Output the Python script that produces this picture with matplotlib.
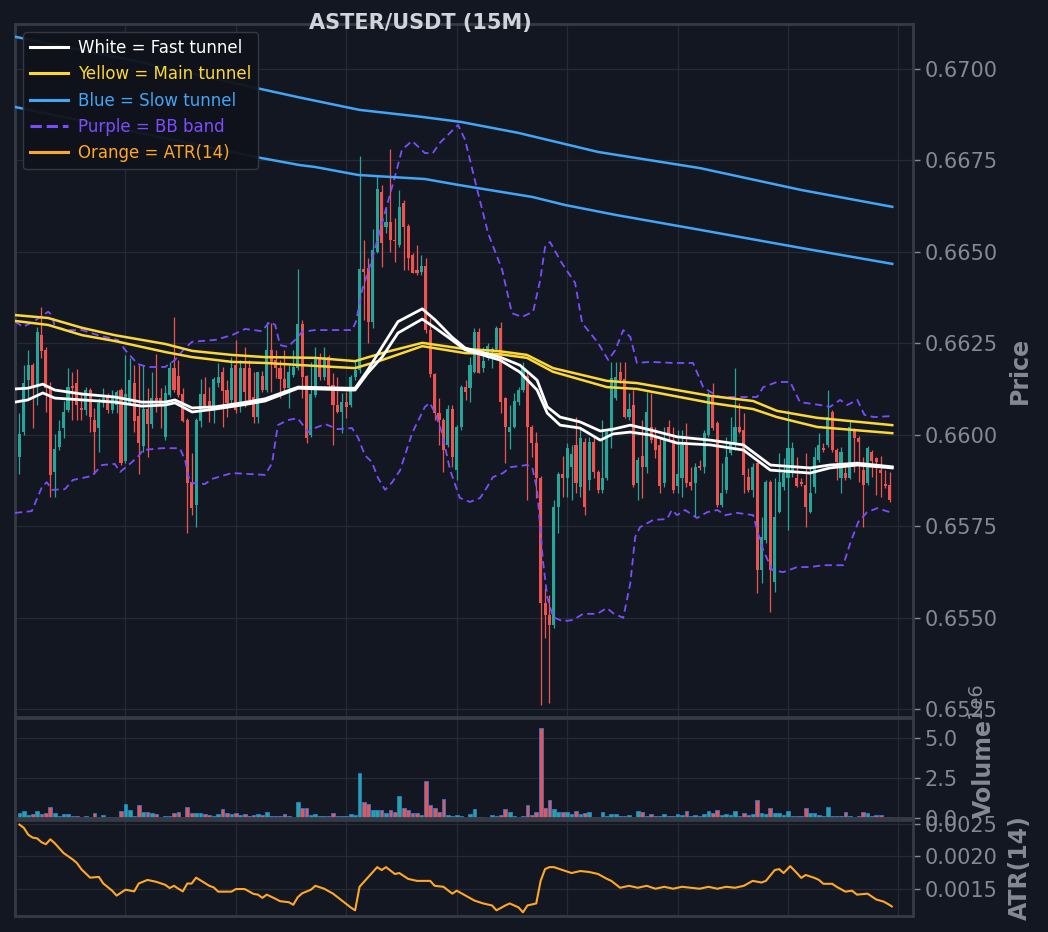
import numpy as np
import matplotlib.pyplot as plt
from matplotlib.lines import Line2D

## Velas ASTER/USDT 15M
Aperturas = [
    0.65939, 0.66008, 0.66149, 0.66190, 0.66135, 0.66272, 0.66232, 0.66127, 0.65898, 0.65966,
    0.66018, 0.66067, 0.66133, 0.66141, 0.66073, 0.66067, 0.66122, 0.66040, 0.66018, 0.66087,
    0.66106, 0.66067, 0.66081, 0.66122, 0.65928, 0.66087, 0.66141, 0.66051, 0.65969, 0.66070,
    0.66029, 0.66100, 0.66100, 0.65994, 0.66108, 0.66182, 0.66161, 0.66111, 0.66040, 0.65871,
    0.65807, 0.66037, 0.66111, 0.66092, 0.66076, 0.66141, 0.66172, 0.66122, 0.66095, 0.66190,
    0.66087, 0.66182, 0.66182, 0.66103, 0.66048, 0.66161, 0.66122, 0.66232, 0.66204, 0.66182,
    0.66152, 0.66127, 0.66163, 0.66182, 0.66303, 0.66161, 0.65999, 0.66108, 0.66212, 0.66158,
    0.66212, 0.66135, 0.66081, 0.66062, 0.66090, 0.66081, 0.66158, 0.66177, 0.66453, 0.66456,
    0.66308, 0.66500, 0.66664, 0.66568, 0.66581, 0.66532, 0.66519, 0.66634, 0.66571, 0.66491,
    0.66450, 0.66445, 0.66461, 0.66286, 0.66166, 0.66059, 0.66040, 0.65972, 0.66070, 0.65903,
    0.66021, 0.66130, 0.66127, 0.66172, 0.66281, 0.66182, 0.66210, 0.66232, 0.66234, 0.66292,
    0.66100, 0.66008, 0.66021, 0.66090, 0.66122, 0.66161, 0.66021, 0.65977, 0.65881, 0.65540,
    0.65507, 0.65479, 0.65802, 0.65892, 0.65881, 0.65912, 0.65972, 0.65857, 0.65980, 0.65876,
    0.65980, 0.65898, 0.65849, 0.65881, 0.66008, 0.66100, 0.66172, 0.66152, 0.66048, 0.66081,
    0.65868, 0.65942, 0.65912, 0.66021, 0.65994, 0.65972, 0.65868, 0.66021, 0.65985, 0.65860,
    0.65881, 0.65972, 0.65871, 0.65868, 0.65914, 0.65912, 0.65999, 0.66108, 0.66032, 0.65807,
    0.65849, 0.65950, 0.65977, 0.66021, 0.66013, 0.65884, 0.65849, 0.65923, 0.65630, 0.65712,
    0.65871, 0.65597, 0.65789, 0.65857, 0.65881, 0.65895, 0.65881, 0.65871, 0.65862, 0.65789,
    0.65857, 0.65931, 0.65964, 0.65972, 0.66062, 0.65958, 0.65881, 0.65895, 0.65881, 0.66013,
    0.65991, 0.65903, 0.65868, 0.65953, 0.65936, 0.65903, 0.65865, 0.65862]
Maximos = [
    0.66059, 0.66190, 0.66232, 0.66196, 0.66295, 0.66349, 0.66240, 0.66144, 0.66002, 0.66040,
    0.66092, 0.66182, 0.66172, 0.66179, 0.66117, 0.66130, 0.66127, 0.66073, 0.66100, 0.66127,
    0.66114, 0.66122, 0.66122, 0.66127, 0.66218, 0.66210, 0.66190, 0.66190, 0.66190, 0.66127,
    0.66172, 0.66221, 0.66127, 0.66135, 0.66199, 0.66322, 0.66204, 0.66127, 0.66045, 0.65950,
    0.66045, 0.66152, 0.66158, 0.66130, 0.66158, 0.66196, 0.66185, 0.66149, 0.66212, 0.66259,
    0.66204, 0.66240, 0.66204, 0.66172, 0.66172, 0.66174, 0.66309, 0.66306, 0.66232, 0.66204,
    0.66232, 0.66190, 0.66232, 0.66453, 0.66314, 0.66163, 0.66199, 0.66240, 0.66223, 0.66240,
    0.66218, 0.66169, 0.66158, 0.66114, 0.66117, 0.66163, 0.66204, 0.66763, 0.66532, 0.66483,
    0.66563, 0.66710, 0.66683, 0.66623, 0.66781, 0.66592, 0.66669, 0.66642, 0.66576, 0.66497,
    0.66519, 0.66491, 0.66483, 0.66319, 0.66169, 0.66100, 0.66045, 0.66081, 0.66081, 0.66026,
    0.66135, 0.66149, 0.66212, 0.66292, 0.66292, 0.66240, 0.66251, 0.66240, 0.66297, 0.66308,
    0.66103, 0.66081, 0.66114, 0.66130, 0.66199, 0.66172, 0.66026, 0.66008, 0.65887, 0.65581,
    0.65561, 0.65821, 0.65898, 0.65942, 0.65977, 0.65972, 0.66048, 0.66018, 0.65991, 0.65994,
    0.65994, 0.65903, 0.66040, 0.66013, 0.66199, 0.66199, 0.66199, 0.66199, 0.66114, 0.66122,
    0.65939, 0.66040, 0.66117, 0.66114, 0.66021, 0.65994, 0.66021, 0.66040, 0.66021, 0.66013,
    0.66013, 0.66032, 0.65912, 0.65923, 0.65931, 0.66013, 0.66117, 0.66141, 0.66037, 0.65923,
    0.65994, 0.66048, 0.66182, 0.66087, 0.66059, 0.65909, 0.65923, 0.65925, 0.65775, 0.65876,
    0.65876, 0.65881, 0.65950, 0.65936, 0.66067, 0.65980, 0.65939, 0.65881, 0.65950, 0.65912,
    0.65966, 0.66005, 0.65977, 0.66122, 0.66067, 0.65964, 0.65966, 0.65923, 0.66040, 0.66018,
    0.65996, 0.65939, 0.65969, 0.65958, 0.65939, 0.65942, 0.65903, 0.65898]
Minimos = [
    0.65892, 0.65999, 0.66100, 0.66018, 0.66081, 0.66210, 0.66062, 0.65830, 0.65830, 0.65958,
    0.65991, 0.66062, 0.66040, 0.66040, 0.66040, 0.66053, 0.66008, 0.65892, 0.65953, 0.66076,
    0.66059, 0.66059, 0.66059, 0.65917, 0.65923, 0.66081, 0.66008, 0.65892, 0.65953, 0.65939,
    0.66018, 0.66062, 0.66018, 0.65985, 0.66103, 0.66117, 0.66103, 0.66035, 0.65731, 0.65780,
    0.65748, 0.66021, 0.66076, 0.66035, 0.66032, 0.66130, 0.66021, 0.66048, 0.66087, 0.66059,
    0.66062, 0.66076, 0.66090, 0.66032, 0.66032, 0.66117, 0.66117, 0.66117, 0.66155, 0.66100,
    0.66114, 0.66073, 0.66158, 0.66177, 0.66100, 0.65977, 0.65994, 0.66103, 0.66149, 0.66149,
    0.66127, 0.65972, 0.66059, 0.66005, 0.66045, 0.66076, 0.66149, 0.66169, 0.66314, 0.66251,
    0.66292, 0.66497, 0.66459, 0.66551, 0.66500, 0.66472, 0.66513, 0.66450, 0.66450, 0.66442,
    0.66436, 0.66436, 0.66278, 0.66158, 0.66040, 0.65972, 0.65898, 0.65966, 0.65912, 0.65876,
    0.66013, 0.66095, 0.66090, 0.66169, 0.66169, 0.66172, 0.66204, 0.66182, 0.66232, 0.66059,
    0.65923, 0.65961, 0.66018, 0.66081, 0.66117, 0.65821, 0.65939, 0.65827, 0.65261, 0.65444,
    0.65266, 0.65471, 0.65731, 0.65830, 0.65830, 0.65821, 0.65841, 0.65830, 0.65780, 0.65849,
    0.65881, 0.65841, 0.65841, 0.65876, 0.65964, 0.66095, 0.66141, 0.66045, 0.66040, 0.65857,
    0.65821, 0.65827, 0.65895, 0.65977, 0.65936, 0.65841, 0.65857, 0.65985, 0.65841, 0.65841,
    0.65830, 0.65857, 0.65849, 0.65775, 0.65903, 0.65895, 0.65994, 0.66013, 0.65802, 0.65802,
    0.65841, 0.65944, 0.65958, 0.66005, 0.65841, 0.65843, 0.65830, 0.65567, 0.65594, 0.65704,
    0.65515, 0.65570, 0.65786, 0.65849, 0.65739, 0.65884, 0.65857, 0.65860, 0.65748, 0.65786,
    0.65841, 0.65925, 0.65953, 0.65966, 0.65953, 0.65876, 0.65841, 0.65876, 0.65879, 0.65898,
    0.65871, 0.65748, 0.65862, 0.65884, 0.65835, 0.65830, 0.65854, 0.65816]
Cierres = [
    0.66002, 0.66141, 0.66190, 0.66127, 0.66281, 0.66229, 0.66127, 0.65889, 0.65960, 0.66010,
    0.66062, 0.66130, 0.66127, 0.66081, 0.66067, 0.66122, 0.66048, 0.66008, 0.66087, 0.66100,
    0.66067, 0.66103, 0.66117, 0.65923, 0.66111, 0.66149, 0.66037, 0.65977, 0.66070, 0.66029,
    0.66100, 0.66090, 0.66081, 0.66114, 0.66182, 0.66122, 0.66108, 0.66037, 0.65868, 0.65799,
    0.66040, 0.66111, 0.66079, 0.66067, 0.66152, 0.66158, 0.66119, 0.66087, 0.66182, 0.66067,
    0.66182, 0.66117, 0.66095, 0.66048, 0.66172, 0.66122, 0.66232, 0.66199, 0.66182, 0.66152,
    0.66127, 0.66172, 0.66185, 0.66303, 0.66158, 0.65991, 0.66111, 0.66210, 0.66158, 0.66212,
    0.66135, 0.66081, 0.66062, 0.66090, 0.66076, 0.66158, 0.66177, 0.66453, 0.66445, 0.66308,
    0.66505, 0.66672, 0.66524, 0.66581, 0.66532, 0.66530, 0.66623, 0.66568, 0.66483, 0.66442,
    0.66442, 0.66461, 0.66286, 0.66166, 0.66059, 0.66040, 0.65958, 0.66070, 0.65939, 0.66021,
    0.66130, 0.66117, 0.66190, 0.66281, 0.66169, 0.66201, 0.66243, 0.66234, 0.66292, 0.66090,
    0.66021, 0.66021, 0.66092, 0.66122, 0.66182, 0.66021, 0.65977, 0.65881, 0.65540, 0.65507,
    0.65479, 0.65802, 0.65892, 0.65881, 0.65964, 0.65947, 0.65868, 0.65991, 0.65802, 0.65980,
    0.65898, 0.65849, 0.65881, 0.66008, 0.66155, 0.66158, 0.66149, 0.66048, 0.66070, 0.65862,
    0.65931, 0.65912, 0.66062, 0.65985, 0.65958, 0.65860, 0.65985, 0.66005, 0.65849, 0.65892,
    0.65972, 0.65868, 0.65860, 0.65912, 0.65909, 0.66005, 0.66108, 0.66018, 0.65807, 0.65841,
    0.65939, 0.65977, 0.66021, 0.66008, 0.65889, 0.65849, 0.65912, 0.65630, 0.65720, 0.65871,
    0.65630, 0.65775, 0.65871, 0.65895, 0.65964, 0.65964, 0.65860, 0.65865, 0.65802, 0.65841,
    0.65939, 0.65972, 0.65958, 0.66048, 0.65958, 0.65925, 0.65953, 0.65881, 0.66021, 0.65991,
    0.65980, 0.65862, 0.65964, 0.65928, 0.65925, 0.65895, 0.65860, 0.65821]
# volumen en millones
VolumenM = [
    0.33, 0.45, 0.20, 0.25, 0.45, 0.25, 0.30, 0.67, 0.30, 0.10,
    0.25, 0.25, 0.10, 0.15, 0.05, 0.15, 0.05, 0.30, 0.08, 0.20,
    0.05, 0.05, 0.08, 0.45, 0.85, 0.50, 0.15, 0.80, 0.35, 0.38,
    0.33, 0.25, 0.08, 0.15, 0.10, 0.33, 0.40, 0.08, 0.70, 0.33,
    0.33, 0.30, 0.25, 0.20, 0.15, 0.25, 0.55, 0.30, 0.25, 0.30,
    0.20, 0.25, 0.10, 0.20, 0.25, 0.20, 0.40, 0.10, 0.10, 0.10,
    0.25, 0.10, 0.05, 1.00, 0.60, 0.60, 0.20, 0.25, 0.15, 0.15,
    0.15, 0.30, 0.10, 0.15, 0.10, 0.25, 0.20, 2.80, 1.00, 0.90,
    0.50, 0.50, 0.50, 0.30, 0.50, 0.40, 1.40, 0.60, 0.50, 0.30,
    0.30, 0.20, 2.30, 0.80, 0.60, 0.40, 1.20, 0.20, 0.10, 0.20,
    0.15, 0.03, 0.25, 0.55, 0.05, 0.06, 0.02, 0.20, 0.10, 0.20,
    0.55, 0.40, 0.10, 0.05, 0.10, 0.80, 0.20, 0.40, 5.60, 0.65,
    1.10, 0.55, 0.35, 0.35, 0.40, 0.25, 0.45, 0.25, 0.30, 0.35,
    0.05, 0.05, 0.35, 0.15, 0.25, 0.25, 0.15, 0.15, 0.20, 0.05,
    0.45, 0.40, 0.15, 0.25, 0.15, 0.15, 0.25, 0.15, 0.15, 0.25,
    0.20, 0.45, 0.15, 0.20, 0.10, 0.25, 0.45, 0.30, 0.50, 0.20,
    0.25, 0.20, 0.45, 0.15, 0.30, 0.20, 0.25, 1.10, 0.33, 0.25,
    0.60, 0.30, 0.30, 0.20, 0.45, 0.10, 0.10, 0.15, 0.60, 0.30,
    0.30, 0.20, 0.10, 0.70, 0.15, 0.10, 0.10, 0.35, 0.15, 0.08,
    0.15, 0.35, 0.30, 0.10, 0.20, 0.20, 0.08, 0.08]

## Tuneles (indice de vela, precio)
BlancoIdx = [-1, 1.9, 5.3, 8, 14.2, 21.6, 27.7, 33, 35.2, 39.1, 44.3, 50.4, 55.6, 63.1, 74.4, 76, 78.9,
             82.1, 85.7, 91.2, 94.1, 97.9, 100.9, 108.8, 113.3, 117.2, 119.5, 122.4, 126.9, 131.5,
             134.4, 138.3, 142.8, 148.9, 156.4, 163.9, 170, 179, 183.5, 189.7, 197.6]
BlancoA = [0.66125, 0.66127, 0.66138, 0.66122, 0.66111, 0.66103, 0.66089, 0.66089, 0.66095, 0.66073,
           0.66076, 0.66087, 0.66098, 0.66130, 0.66127, 0.66127, 0.66177, 0.66240, 0.66309, 0.66344,
           0.66314, 0.66267, 0.66237, 0.66212, 0.66190, 0.66149, 0.66076, 0.66048, 0.66035, 0.66010,
           0.66015, 0.66026, 0.66013, 0.65994, 0.65985, 0.65972, 0.65917, 0.65909, 0.65917, 0.65922, 0.65912]
BlancoB = [0.66089, 0.66095, 0.66114, 0.66100, 0.66095, 0.66089, 0.66078, 0.66081, 0.66087, 0.66062,
           0.66070, 0.66081, 0.66092, 0.66127, 0.66122, 0.66122, 0.66169, 0.66212, 0.66278, 0.66316,
           0.66292, 0.66259, 0.66232, 0.66204, 0.66171, 0.66122, 0.66059, 0.66026, 0.66018, 0.65985,
           0.66002, 0.66007, 0.65999, 0.65977, 0.65972, 0.65958, 0.65903, 0.65895, 0.65909, 0.65917, 0.65909]

AmarilloIdx = [-1, 6.5, 14.2, 21.6, 33, 39.1, 48.1, 55.6, 66.9, 76, 82.1, 91.2, 100.9, 108.1, 114.9,
               120.8, 133, 139.8, 156.4, 166.1, 171.5, 180.6, 197.6]
AmarilloA = [0.66327, 0.66319, 0.66292, 0.66272, 0.66248, 0.66229, 0.66218, 0.66212, 0.66210, 0.66201,
             0.66223, 0.66251, 0.66234, 0.66229, 0.66218, 0.66182, 0.66147, 0.66141, 0.66106, 0.66092,
             0.66065, 0.66046, 0.66026]
AmarilloB = [0.66311, 0.66300, 0.66272, 0.66256, 0.66226, 0.66212, 0.66199, 0.66196, 0.66188, 0.66182,
             0.66204, 0.66242, 0.66223, 0.66221, 0.66210, 0.66172, 0.66130, 0.66125, 0.66087, 0.66070,
             0.66048, 0.66021, 0.66004]

AzulAIdx = [-1, 25, 53.6, 63, 77, 91, 100, 113, 131, 154, 177, 197.6]
AzulA = [0.67088, 0.67025, 0.66948, 0.66923, 0.66888, 0.66869, 0.66855, 0.66825, 0.66773, 0.66729,
         0.66669, 0.66623]
AzulBIdx = [-1, 53.6, 63.5, 66.9, 76.7, 91.8, 99.3, 116.1, 123.5, 134.9, 154.1, 176.7, 197.6]
AzulB = [0.66896, 0.66759, 0.66737, 0.66732, 0.66710, 0.66699, 0.66683, 0.66650, 0.66628, 0.66601,
         0.66560, 0.66511, 0.66467]

## Bandas de Bollinger
BBSupIdx = [-1, 0.8, 2.8, 6.5, 7.4, 8, 11, 14.2, 17.8, 22.3, 23.9, 26.8, 29.1, 33, 35.2, 37.5, 39.1,
            44.3, 48.1, 51.1, 54.9, 56.7, 57.9, 59, 60.8, 62.4, 64, 66.9, 75.3, 76.2, 77.6, 79.8, 82.1,
            85, 86.6, 88.9, 91.8, 93.6, 95.2, 99.3, 100.9, 103.1, 106.1, 109.3, 111.5, 113.8, 116.3,
            117.9, 119, 120.1, 122.8, 125.8, 127.4, 131, 133.3, 134.9, 136.7, 138.3, 139.8, 142.8,
            148, 152.5, 154.8, 156.4, 158.6, 167, 168.4, 171.5, 174.5, 176.7, 181.3, 183.5, 185.8,
            187.4, 189.7, 191.3, 193.5, 197.6]
BBSup = [0.66309, 0.66295, 0.66306, 0.66336, 0.66327, 0.66295, 0.66286, 0.66286, 0.66272, 0.66259,
         0.66232, 0.66193, 0.66185, 0.66185, 0.66204, 0.66237, 0.66254, 0.66259, 0.66272, 0.66289,
         0.66283, 0.66309, 0.66300, 0.66245, 0.66240, 0.66259, 0.66281, 0.66286, 0.66286, 0.66309,
         0.66396, 0.66478, 0.66579, 0.66705, 0.66779, 0.66803, 0.66770, 0.66770, 0.66798, 0.66847,
         0.66806, 0.66696, 0.66551, 0.66450, 0.66332, 0.66322, 0.66336, 0.66423, 0.66513, 0.66527,
         0.66469, 0.66415, 0.66305, 0.66251, 0.66204, 0.66231, 0.66286, 0.66267, 0.66196, 0.66199,
         0.66196, 0.66196, 0.66130, 0.66117, 0.66103, 0.66103, 0.66130, 0.66144, 0.66144, 0.66089,
         0.66081, 0.66076, 0.66095, 0.66081, 0.66095, 0.66054, 0.66048, 0.66051]
BBInfIdx = [-1, 2.8, 5.1, 6.2, 7.4, 10.3, 12.1, 16.4, 18.7, 21.6, 22.8, 25, 26.8, 28, 32.3, 36.3, 37.5,
            38.6, 42, 43.6, 48.1, 55.6, 57.2, 58.5, 60.8, 63, 64.2, 65.3, 66.9, 69.2, 72.1, 75.3, 76.7,
            78.2, 79.8, 81.2, 82.8, 84.4, 86.2, 88.9, 91.8, 92.9, 94.1, 95.7, 97.5, 99.7, 102, 104.3,
            105.9, 107.2, 109.5, 111.1, 114.9, 116.1, 117.2, 117.9, 118.5, 119.5, 120.8, 123, 125.3,
            127.6, 130.8, 133, 134.4, 136.7, 138.3, 139.4, 140.5, 143.5, 146.6, 147.7, 148.9, 150.7,
            153.4, 155.7, 158, 159.8, 162.5, 166.1, 167.2, 168.4, 170.4, 172.9, 176.1, 179, 182,
            186.5, 188.1, 189.9, 191.9, 194.2, 197.6]
BBInf = [0.65786, 0.65791, 0.65857, 0.65870, 0.65849, 0.65851, 0.65876, 0.65887, 0.65917, 0.65920,
         0.65898, 0.65920, 0.65939, 0.65958, 0.65963, 0.65963, 0.65931, 0.65868, 0.65865, 0.65879,
         0.65895, 0.65890, 0.65922, 0.66026, 0.66040, 0.66045, 0.66026, 0.66007, 0.66018, 0.66029,
         0.66015, 0.66018, 0.65991, 0.65944, 0.65925, 0.65881, 0.65849, 0.65870, 0.65903, 0.66004,
         0.66076, 0.66087, 0.66059, 0.66004, 0.65903, 0.65827, 0.65816, 0.65827, 0.65857, 0.65884,
         0.65895, 0.65911, 0.65917, 0.65911, 0.65849, 0.65747, 0.65657, 0.65556, 0.65501, 0.65490,
         0.65493, 0.65510, 0.65510, 0.65526, 0.65512, 0.65499, 0.65594, 0.65720, 0.65747, 0.65767,
         0.65769, 0.65794, 0.65780, 0.65794, 0.65772, 0.65788, 0.65794, 0.65780, 0.65786, 0.65780,
         0.65731, 0.65684, 0.65630, 0.65624, 0.65638, 0.65638, 0.65643, 0.65643, 0.65704, 0.65761,
         0.65788, 0.65799, 0.65786]

## ATR(14)
AtrIdx = [0, 1, 2, 3, 4, 5, 6, 7, 8, 10, 12, 13, 14, 16, 18, 19, 21, 22, 24, 26,
          27, 29, 31, 33, 34, 35, 36, 37, 38, 39, 40, 43, 44, 45, 48, 49, 51, 53, 54, 55,
          56, 58, 59, 61, 62, 63, 64, 66, 67, 69, 71, 73, 75, 76, 77, 78, 80, 81, 82, 83,
          85, 86, 88, 90, 93, 94, 96, 98, 99, 101, 103, 105, 107, 108, 110, 111, 113, 114, 115, 117,
          118, 119, 120, 121, 123, 125, 127, 129, 131, 133, 134, 136, 138, 140, 142, 144, 146, 148, 150, 152,
          154, 156, 158, 160, 162, 164, 166, 168, 169, 171, 172, 173, 174.5, 176, 177, 178, 180, 181, 182, 184,
          185, 187, 188.5, 189.6, 192, 194, 195.6, 196.8, 197.5]
AtrVal = [0.002489, 0.002439, 0.002333, 0.002288, 0.002277, 0.002217, 0.002186, 0.002262, 0.002202, 0.00205,
          0.001955, 0.001898, 0.001803, 0.001671, 0.001682, 0.00158, 0.00147, 0.001394, 0.001485, 0.001459,
          0.00158, 0.001636, 0.001606, 0.001561, 0.001511, 0.001545, 0.0015, 0.001459, 0.00158, 0.00158,
          0.001671, 0.001545, 0.00152, 0.001455, 0.001455, 0.001495, 0.001495, 0.00142, 0.001409, 0.001359,
          0.001409, 0.001344, 0.001308, 0.001292, 0.001253, 0.001368, 0.001429, 0.001485, 0.001545, 0.0015,
          0.001424, 0.001318, 0.001212, 0.001167, 0.00153, 0.001606, 0.001758, 0.001833, 0.001788, 0.001833,
          0.001727, 0.001742, 0.001652, 0.001621, 0.001621, 0.001545, 0.00153, 0.001424, 0.00147, 0.001394,
          0.001318, 0.001273, 0.001242, 0.001167, 0.001242, 0.001273, 0.001212, 0.001136, 0.001242, 0.001273,
          0.001621, 0.001803, 0.001833, 0.001833, 0.001788, 0.001742, 0.001773, 0.001758, 0.001727, 0.001652,
          0.001621, 0.001515, 0.001545, 0.001515, 0.001545, 0.0015, 0.00153, 0.0015, 0.00153, 0.001515,
          0.0015, 0.00153, 0.0015, 0.00153, 0.001515, 0.001545, 0.001621, 0.001596, 0.001621, 0.001788,
          0.001803, 0.001742, 0.001848, 0.001742, 0.001667, 0.001712, 0.001667, 0.001636, 0.001576, 0.001576,
          0.00153, 0.001455, 0.00147, 0.001409, 0.001424, 0.001333, 0.001303, 0.001258, 0.001227]

## Colores estilo TradingView
Fondo = '#131722'
Rejilla = '#262a35'
Borde = '#363a45'
TextoGris = '#868993'
Verde = '#26a69a'
Rojo = '#ef5350'
Blanco = '#ffffff'
Amarillo = '#fdd835'
Azul = '#42a5f5'
Morado = '#7c4dff'
Naranja = '#ffa726'

O = np.array(Aperturas)
H = np.array(Maximos)
L = np.array(Minimos)
C = np.array(Cierres)
x = np.arange(len(C))
sube = C >= O
colores = np.where(sube, Verde, Rojo)

fig = plt.figure(figsize=(10.48, 9.32), dpi=100, facecolor=Fondo)
ax = fig.add_axes([0.0143, 0.2307, 0.8569, 0.7436])
axv = fig.add_axes([0.0143, 0.1223, 0.8569, 0.1073], sharex=ax)
axa = fig.add_axes([0.0143, 0.0172, 0.8569, 0.1030], sharex=ax)

## Velas
ax.vlines(x, L, H, colors=colores, linewidth=0.9, zorder=2)
cuerpo = np.maximum(np.abs(C - O), 0.00002)
ax.bar(x, cuerpo, bottom=np.minimum(O, C), width=0.7, color=colores, linewidth=0, zorder=2)

## Indicadores
ax.plot(BBSupIdx, BBSup, color=Morado, lw=1.3, ls=(0, (4, 2.5)), zorder=3)
ax.plot(BBInfIdx, BBInf, color=Morado, lw=1.3, ls=(0, (4, 2.5)), zorder=3)
ax.plot(AzulAIdx, AzulA, color=Azul, lw=1.8, zorder=3)
ax.plot(AzulBIdx, AzulB, color=Azul, lw=1.8, zorder=3)
ax.plot(AmarilloIdx, AmarilloA, color=Amarillo, lw=1.8, zorder=3)
ax.plot(AmarilloIdx, AmarilloB, color=Amarillo, lw=1.8, zorder=3)
ax.plot(BlancoIdx, BlancoA, color=Blanco, lw=2.0, zorder=4)
ax.plot(BlancoIdx, BlancoB, color=Blanco, lw=2.0, zorder=4)

## Volumen
axv.bar(x, np.array(VolumenM) * 1e6, width=0.85, color=colores, edgecolor='#2b7bd6', linewidth=0.6, zorder=2)

## ATR
axa.plot(AtrIdx, AtrVal, color=Naranja, lw=1.5, zorder=3)

for a in (ax, axv, axa):
    a.set_facecolor(Fondo)
    a.yaxis.tick_right()
    a.yaxis.set_label_position('right')
    a.tick_params(axis='y', colors=TextoGris, labelsize=15, length=5, width=1)
    a.tick_params(axis='x', labelbottom=False, length=0)
    a.grid(True, color=Rejilla, linewidth=0.9, zorder=0)
    a.set_axisbelow(True)
    for s in a.spines.values():
        s.set_color(Borde)
        s.set_linewidth(2)

ax.set_xlim(-1, 202.3)
ax.set_xticks(np.arange(-1, 200, 25))

ax.set_ylim(0.65228, 0.67123)
ax.set_yticks(np.arange(0.6525, 0.67001, 0.0025))
ax.yaxis.set_major_formatter(plt.FormatStrFormatter('%.4f'))
ax.set_ylabel('Price', color=TextoGris, fontsize=17, fontweight='bold', labelpad=7)

axv.set_ylim(0, 6.25e6)
axv.set_yticks([0, 2.5e6, 5e6])
axv.set_ylabel('Volume', color=TextoGris, fontsize=17, fontweight='bold', labelpad=10)
ot = axv.yaxis.get_offset_text()
ot.set_rotation(90)
ot.set_fontsize(14)
ot.set_color(TextoGris)
ot.set_x(1.08)

axa.set_ylim(0.00108, 0.00256)
axa.set_yticks([0.0015, 0.0020, 0.0025])
axa.yaxis.set_major_formatter(plt.FormatStrFormatter('%.4f'))
axa.set_ylabel('ATR(14)', color=TextoGris, fontsize=17, fontweight='bold', labelpad=7)

## Leyenda
handles = [Line2D([], [], color=Blanco, lw=2.2),
           Line2D([], [], color=Amarillo, lw=2.2),
           Line2D([], [], color=Azul, lw=2.2),
           Line2D([], [], color=Morado, lw=2.2, ls='--'),
           Line2D([], [], color=Naranja, lw=2.2)]
nombres = ['White = Fast tunnel', 'Yellow = Main tunnel', 'Blue = Slow tunnel',
           'Purple = BB band', 'Orange = ATR(14)']
leg = ax.legend(handles, nombres, loc='upper left', fontsize=12, labelcolor='linecolor',
                facecolor='#0f121a', edgecolor=Borde, framealpha=0.95,
                handlelength=2.3, handletextpad=0.6, labelspacing=0.5)
leg.set_zorder(10)

fig.text(0.401, 0.9753, 'ASTER/USDT (15M)', ha='center', va='center', fontsize=15,
         fontweight='bold', color='#d1d4dc')

fig.savefig('out.png', dpi=100, facecolor=Fondo)
